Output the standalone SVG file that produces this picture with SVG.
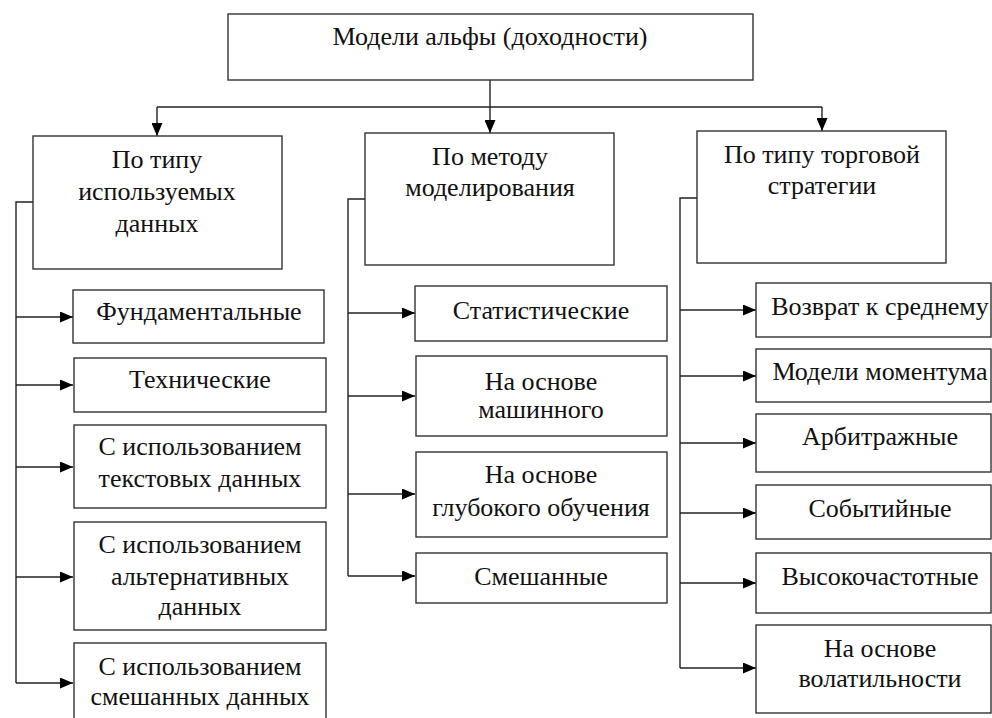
<svg xmlns="http://www.w3.org/2000/svg" width="992" height="718" viewBox="0 0 992 718">
<style>
.box{fill:#fff;stroke:#333;stroke-width:1.4}
.t{text-anchor:middle;fill:#111;font-family:"Liberation Serif","Times New Roman",serif;font-size:26px}
.c{fill:none;stroke:#222;stroke-width:1.4}
</style>
<defs>
<marker id="ah" markerUnits="userSpaceOnUse" markerWidth="13" markerHeight="11" refX="13" refY="5.5" orient="auto">
<path d="M0,0 L13,5.5 L0,11 z" fill="#000"/>
</marker>
</defs>
<rect width="992" height="718" fill="#fff"/>
<g id="connectors">
<path class="c" d="M490,80 V133" marker-end="url(#ah)"/>
<path class="c" d="M157,107 H822"/>
<path class="c" d="M157,107 V136" marker-end="url(#ah)"/>
<path class="c" d="M822,107 V131" marker-end="url(#ah)"/>
<path class="c" d="M33,202 H16 V683"/>
<path class="c" d="M16,317 H73" marker-end="url(#ah)"/>
<path class="c" d="M16,385 H73" marker-end="url(#ah)"/>
<path class="c" d="M16,467 H73" marker-end="url(#ah)"/>
<path class="c" d="M16,577 H73" marker-end="url(#ah)"/>
<path class="c" d="M16,683 H73" marker-end="url(#ah)"/>
<path class="c" d="M365,199 H348 V576"/>
<path class="c" d="M348,313 H415" marker-end="url(#ah)"/>
<path class="c" d="M348,396 H415" marker-end="url(#ah)"/>
<path class="c" d="M348,494 H415" marker-end="url(#ah)"/>
<path class="c" d="M348,576 H415" marker-end="url(#ah)"/>
<path class="c" d="M697,198 H680 V668"/>
<path class="c" d="M680,310 H756" marker-end="url(#ah)"/>
<path class="c" d="M680,376 H756" marker-end="url(#ah)"/>
<path class="c" d="M680,443 H756" marker-end="url(#ah)"/>
<path class="c" d="M680,513 H756" marker-end="url(#ah)"/>
<path class="c" d="M680,583 H756" marker-end="url(#ah)"/>
<path class="c" d="M680,668 H756" marker-end="url(#ah)"/>
</g>
<g id="root"><rect class="box" x="228" y="14" width="525" height="66"/><text class="t" x="490" y="45">Модели альфы (доходности)</text></g>
<g id="cat-data"><rect class="box" x="33" y="136" width="249" height="133"/><text class="t" x="157" y="168">По типу</text><text class="t" x="157" y="200">используемых</text><text class="t" x="157" y="232">данных</text></g>
<g id="cat-method"><rect class="box" x="365" y="133" width="249" height="132"/><text class="t" x="490" y="165">По методу</text><text class="t" x="490" y="196">моделирования</text></g>
<g id="cat-strategy"><rect class="box" x="697" y="131" width="249" height="132"/><text class="t" x="822" y="163">По типу торговой</text><text class="t" x="822" y="194">стратегии</text></g>
<g id="d1"><rect class="box" x="73" y="290" width="251" height="53"/><text class="t" x="199" y="320">Фундаментальные</text></g>
<g id="d2"><rect class="box" x="74" y="358" width="252" height="54"/><text class="t" x="200" y="388">Технические</text></g>
<g id="d3"><rect class="box" x="74" y="425" width="252" height="83"/><text class="t" x="200" y="455">С использованием</text><text class="t" x="200" y="487">текстовых данных</text></g>
<g id="d4"><rect class="box" x="74" y="522" width="252" height="108"/><text class="t" x="200" y="553">С использованием</text><text class="t" x="200" y="585">альтернативных</text><text class="t" x="200" y="615">данных</text></g>
<g id="d5"><rect class="box" x="74" y="643" width="252" height="85"/><text class="t" x="200" y="675">С использованием</text><text class="t" x="200" y="705">смешанных данных</text></g>
<g id="m1"><rect class="box" x="415" y="286" width="252" height="55"/><text class="t" x="541" y="319">Статистические</text></g>
<g id="m2"><rect class="box" x="416" y="356" width="251" height="80"/><text class="t" x="541" y="390">На основе</text><text class="t" x="541" y="418">машинного</text></g>
<g id="m3"><rect class="box" x="416" y="452" width="251" height="85"/><text class="t" x="541" y="483">На основе</text><text class="t" x="541" y="516">глубокого обучения</text></g>
<g id="m4"><rect class="box" x="416" y="553" width="251" height="50"/><text class="t" x="541" y="585">Смешанные</text></g>
<g id="s1"><rect class="box" x="756" y="283" width="235" height="54"/><text class="t" x="880" y="315">Возврат к среднему</text></g>
<g id="s2"><rect class="box" x="756" y="349" width="235" height="53"/><text class="t" x="880" y="380">Модели моментума</text></g>
<g id="s3"><rect class="box" x="756" y="414" width="235" height="58"/><text class="t" x="880" y="445">Арбитражные</text></g>
<g id="s4"><rect class="box" x="756" y="485" width="235" height="54"/><text class="t" x="880" y="517">Событийные</text></g>
<g id="s5"><rect class="box" x="756" y="553" width="235" height="60"/><text class="t" x="880" y="585">Высокочастотные</text></g>
<g id="s6"><rect class="box" x="756" y="625" width="235" height="88"/><text class="t" x="880" y="657">На основе</text><text class="t" x="880" y="687">волатильности</text></g>
</svg>
